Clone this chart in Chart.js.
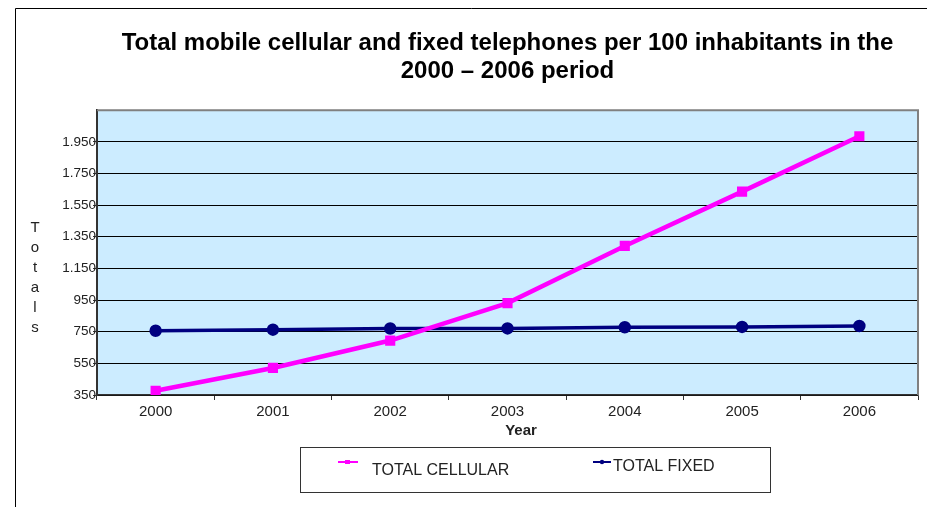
<!DOCTYPE html>
<html>
<head>
<meta charset="utf-8">
<script src="https://cdn.jsdelivr.net/npm/chart.js@4"></script>
<style>
    html, body { margin: 0; padding: 0; background: #fff; }
    #wrap { width: 927px; height: 507px; position: relative; }
</style>
</head>
<body>
<div id="wrap"><canvas id="phoneChart"></canvas></div>
<script>
// --- data ---
const years = ['2000', '2001', '2002', '2003', '2004', '2005', '2006'];
const totalCellular = [377, 521, 694, 931, 1292, 1635, 1985];
const totalFixed = [756, 763, 770, 771, 778, 780, 786];
const yTicks = [350, 550, 750, 950, 1150, 1350, 1550, 1750, 1950, 2150];
const yTickLabels = ['350', '550', '750', '950', '1.150', '1.350', '1.550', '1.750', '1.950', ''];
const seriesNames = ['TOTAL CELLULAR', 'TOTAL FIXED'];
const yAxisTitle = 'Totals';
const xAxisTitle = 'Year';

const FONT = "'Liberation Sans', Arial, sans-serif";
const MAGENTA = '#ff00ff';
const NAVY = '#000080';
const isTopTick = ctx => ctx.tick && ctx.tick.value === yTicks[yTicks.length - 1];

// frame, plot background, axis titles and the boxed legend
const decoPlugin = {
    id: 'deco',
    beforeDraw(chart) {
        const ctx = chart.ctx;
        const a = chart.chartArea;
        ctx.save();
        ctx.fillStyle = '#fff';
        ctx.fillRect(0, 0, chart.width, chart.height);
        // outer frame (top + left)
        ctx.strokeStyle = '#000';
        ctx.lineWidth = 1;
        ctx.beginPath();
        ctx.moveTo(15.5, chart.height);
        ctx.lineTo(15.5, 8.5);
        ctx.lineTo(chart.width, 8.5);
        ctx.stroke();
        // plot area fill
        ctx.fillStyle = '#ccecff';
        ctx.fillRect(a.left, a.top, a.right - a.left, a.bottom - a.top);
        ctx.restore();
    },
    beforeDatasetsDraw(chart) {
        const ctx = chart.ctx;
        const a = chart.chartArea;
        ctx.save();
        ctx.strokeStyle = '#808080';
        ctx.lineWidth = 2;
        ctx.beginPath();
        ctx.moveTo(a.left, a.top);
        ctx.lineTo(a.right, a.top);
        ctx.lineTo(a.right, a.bottom);
        ctx.stroke();
        ctx.restore();
    },
    afterDraw(chart) {
        const ctx = chart.ctx;
        ctx.save();
        // stacked y title
        ctx.fillStyle = '#222';
        ctx.font = '15px ' + FONT;
        ctx.textAlign = 'center';
        ctx.textBaseline = 'middle';
        yAxisTitle.split('').forEach((ch, i) => {
            ctx.fillText(ch, 35, 228 + i * 20);
        });

        // x title (sits a bit right of centre in the reference)
        ctx.font = 'bold 15px ' + FONT;
        ctx.fillText(xAxisTitle, 521, 431);

        // legend box
        ctx.strokeStyle = '#333';
        ctx.lineWidth = 1;
        ctx.strokeRect(300.5, 447.5, 470, 45);

        // cellular sample
        ctx.strokeStyle = MAGENTA;
        ctx.lineWidth = 2;
        ctx.beginPath();
        ctx.moveTo(338, 462);
        ctx.lineTo(358, 462);
        ctx.stroke();
        ctx.fillStyle = MAGENTA;
        ctx.fillRect(345, 460, 5, 4);

        // fixed sample
        ctx.strokeStyle = NAVY;
        ctx.beginPath();
        ctx.moveTo(593, 462);
        ctx.lineTo(611, 462);
        ctx.stroke();
        ctx.fillStyle = NAVY;
        ctx.beginPath();
        ctx.arc(602, 462, 2.2, 0, Math.PI * 2);
        ctx.fill();

        ctx.fillStyle = '#222';
        ctx.font = '16px ' + FONT;
        ctx.textAlign = 'left';
        ctx.fillText(seriesNames[0], 372, 471);
        ctx.fillText(seriesNames[1], 613, 467);
        ctx.restore();
    }
};

new Chart(document.getElementById('phoneChart'), {
    type: 'line',
    data: {
        labels: years,
        datasets: [
            {
                label: seriesNames[0],
                data: totalCellular,
                borderColor: MAGENTA,
                backgroundColor: MAGENTA,
                borderWidth: 4.5,
                pointStyle: 'rect',
                pointRadius: 4,
                pointHoverRadius: 4,
                tension: 0
            },
            {
                label: seriesNames[1],
                data: totalFixed,
                borderColor: NAVY,
                backgroundColor: NAVY,
                borderWidth: 3.5,
                pointStyle: 'circle',
                pointRadius: 4.5,
                pointHoverRadius: 4.5,
                tension: 0
            }
        ]
    },
    options: {
        responsive: true,
        maintainAspectRatio: false,
        animation: false,
        layout: { padding: { left: 0, right: 9, top: 0, bottom: 69 } },
        plugins: {
            legend: { display: false },
            tooltip: { enabled: false },
            title: {
                display: true,
                fullSize: false,
                text: ['Total mobile cellular and fixed telephones per 100 inhabitants in the', '2000 \u2013 2006 period'],
                color: '#000',
                font: { family: FONT, size: 24, weight: 'bold', lineHeight: 1.17 },
                padding: { top: 29, bottom: 25 }
            }
        },
        scales: {
            x: {
                offset: true,
                grid: {
                    offset: true,
                    drawOnChartArea: false,
                    drawTicks: true,
                    tickLength: 5,
                    color: '#333'
                },
                border: { color: '#333', width: 1.5 },
                ticks: {
                    color: '#222',
                    font: { family: FONT, size: 15 },
                    padding: 3
                },
                afterFit(scale) { scale.height = 43; }
            },
            y: {
                min: yTicks[0],
                max: yTicks[yTicks.length - 1],
                afterBuildTicks(scale) {
                    scale.ticks = yTicks.map(v => ({ value: v }));
                },
                grid: {
                    color: ctx => isTopTick(ctx) ? 'rgba(0,0,0,0)' : '#000',
                    lineWidth: 1,
                    drawTicks: true,
                    tickLength: 4,
                    tickColor: ctx => isTopTick(ctx) ? 'rgba(0,0,0,0)' : '#333'
                },
                border: { color: '#333', width: 2 },
                ticks: {
                    color: '#222',
                    font: { family: FONT, size: 13.5 },
                    padding: -3,
                    callback: (v, i) => yTickLabels[i]
                },
                afterFit(scale) { scale.width = 97; }
            }
        }
    },
    plugins: [decoPlugin]
});
</script>
</body>
</html>
